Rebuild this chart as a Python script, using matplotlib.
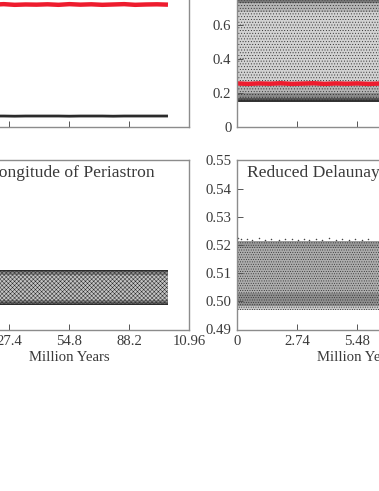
import matplotlib
matplotlib.use("Agg")
import matplotlib.pyplot as plt

plt.rcParams['font.family'] = ['Liberation Serif', 'DejaVu Serif']
plt.rcParams['hatch.linewidth'] = 0.35

FIG_W = 379
FIG_H = 491

# time knots in million years, read along the bands
time_knots = [0, 0.5, 1, 1.5, 2, 2.5, 3, 3.5, 4, 4.5, 5, 5.5, 6, 6.5, 7, 7.5, 8, 8.5, 9, 9.5, 10]

# top left panel
upper_line = [0.722, 0.724, 0.720, 0.723, 0.721, 0.724, 0.720, 0.722, 0.721, 0.723, 0.720,
              0.724, 0.721, 0.723, 0.720, 0.722, 0.724, 0.720, 0.722, 0.723, 0.721]
lower_line = [0.062, 0.062, 0.061, 0.062, 0.062, 0.062, 0.061, 0.062, 0.062, 0.062, 0.062,
              0.061, 0.062, 0.062, 0.062, 0.061, 0.062, 0.062, 0.062, 0.062, 0.062]

# top right panel
mean_line = [0.255, 0.252, 0.255, 0.253, 0.256, 0.252, 0.254, 0.256, 0.252, 0.255, 0.253,
             0.255, 0.252, 0.254, 0.256, 0.253, 0.255, 0.252, 0.254, 0.255, 0.253]
top_edges = [0.145, 0.155, 0.17, 0.20, 0.26, 0.68, 0.73, 0.75, 0.76]
top_shade = ['#333333', '#555555', '#8a8a8a', '#b5b5b5', '#d2d2d2', '#b5b5b5', '#777777', '#444444']

# bottom left panel, longitude of periastron in degrees
peri_edges = [53, 55, 58, 63, 117, 122, 125, 127]
peri_shade = ['#2e2e2e', '#666666', '#8c8c8c', '#c4c4c4', '#8c8c8c', '#666666', '#2e2e2e']

# bottom right panel, reduced Delaunay momentum
reduced_edges = [0.497, 0.4985, 0.503, 0.519, 0.5215]
reduced_shade = ['#c8c8c8', '#8f8f8f', '#adadad', '#9a9a9a']
stray_t = [0.05, 0.2, 0.45, 0.7, 1.0, 1.3, 1.55, 1.9, 2.2, 2.5, 2.8, 3.05, 3.3, 3.6, 3.9, 4.2, 4.5, 4.8, 5.1, 5.4, 5.7, 6.0]
stray_y = [0.5225, 0.522, 0.5222, 0.5218, 0.5224, 0.5219, 0.5222, 0.5218, 0.5221, 0.5223, 0.5219, 0.5222, 0.5217, 0.5222, 0.5219, 0.5224, 0.5218, 0.5221, 0.5219, 0.5223, 0.5218, 0.5221]

x_ticks = [0, 2.74, 5.48, 8.22, 10.96]
left_x_labels = ['0', '27.4', '54.8', '88.2', '10.96']
right_x_labels = ['0', '2.74', '5.48', '8.22', '10.96']
top_y_ticks = [0, 0.2, 0.4, 0.6, 0.8, 1]
top_y_labels = ['0', '0.2', '0.4', '0.6', '0.8', '1']
reduced_y_ticks = [0.49, 0.50, 0.51, 0.52, 0.53, 0.54, 0.55]

SPINE = '#8c8c8c'
TEXT = '#3a3a3a'


def panel(fig, left, top, width=240, height=169):
    # axes placed in reference pixels, some of them hang off the canvas
    ax = fig.add_axes([left / FIG_W, 1 - (top + height) / FIG_H, width / FIG_W, height / FIG_H])
    for spine in ax.spines.values():
        spine.set_color(SPINE)
        spine.set_linewidth(1.0)
    ax.set_xlim(0, 10.96)
    ax.set_xticks(x_ticks)
    ax.tick_params(direction='in', length=4, width=0.7, color='#555555',
                   labelsize=10.6, labelcolor=TEXT, pad=4)
    return ax


def bands(ax, edges, shades, hatch):
    # the dots are too dense to read one by one, so each layer is a hatched strip
    for low, high, shade in zip(edges[:-1], edges[1:], shades):
        ax.fill_between([time_knots[0], time_knots[-1]], low, high, facecolor=shade,
                        edgecolor='#2a2a2a', hatch=hatch, linewidth=0)


fig = plt.figure(figsize=(FIG_W / 100, FIG_H / 100), dpi=100)

# top left
ax = panel(fig, -51, -42.5)
ax.set_ylim(0, 1)
ax.set_yticks([])
ax.set_xticklabels([])
ax.plot(time_knots, upper_line, color='#ee1c2e', lw=3.2, solid_capstyle='butt')
ax.plot(time_knots, lower_line, color='#2b2b2b', lw=2.0, solid_capstyle='butt')

# top right
ax = panel(fig, 237, -42.5)
ax.set_ylim(0, 1)
ax.set_yticks(top_y_ticks)
ax.set_yticklabels(top_y_labels)
ax.set_xticklabels([])
bands(ax, top_edges, top_shade, '......')
ax.plot(time_knots, mean_line, color='#ee1c2e', lw=3.2, solid_capstyle='butt')

# bottom left
ax = panel(fig, -51, 160.5)
ax.set_ylim(0, 360)
ax.set_yticks([])
ax.set_xticklabels(left_x_labels)
bands(ax, peri_edges, peri_shade, 'xxxxxxxx')
ax.set_xlabel('Million Years', fontsize=10.6, color=TEXT, labelpad=2)
ax.text(0.855, 0.925, 'Longitude of Periastron', transform=ax.transAxes, ha='right', va='center',
        fontsize=12.6, color=TEXT)

# bottom right
ax = panel(fig, 237, 160.5)
ax.set_ylim(0.49, 0.55)
ax.set_yticks(reduced_y_ticks)
ax.set_yticklabels(['%.2f' % v for v in reduced_y_ticks])
ax.set_xticklabels(right_x_labels)
bands(ax, reduced_edges, reduced_shade, '.......')
ax.scatter(stray_t, stray_y, s=1.2, color='#444444', lw=0)
ax.set_xlabel('Million Years', fontsize=10.6, color=TEXT, labelpad=2)
ax.text(10 / 240, 0.925, 'Reduced Delaunay', transform=ax.transAxes, ha='left', va='center',
        fontsize=12.6, color=TEXT)

fig.savefig('out.png', dpi=100)
